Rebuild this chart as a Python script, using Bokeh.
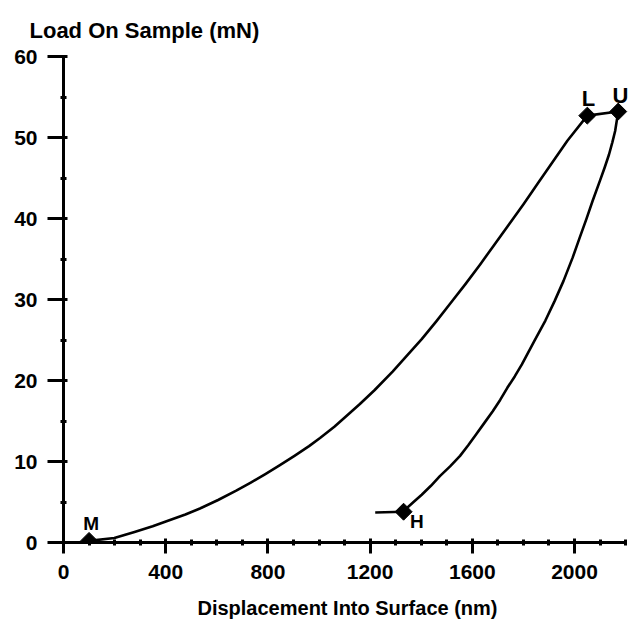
import math
from bokeh.plotting import figure
from bokeh.models import Range1d, FixedTicker
from bokeh.embed import file_html
from bokeh.resources import INLINE
from bokeh.core.properties import value

# ---- data ----
load_disp = [100, 199, 278, 349, 406, 477, 534, 605, 676, 733, 790, 847, 904, 961,
             1004, 1060, 1103, 1160, 1217, 1288, 1345, 1402, 1459, 1516, 1573, 1630,
             1687, 1744, 1801, 1858, 1915, 1972, 2050]
load_force = [0.2, 0.55, 1.3, 2.0, 2.65, 3.45, 4.2, 5.25, 6.4, 7.4, 8.45, 9.55,
              10.7, 11.9, 12.9, 14.3, 15.5, 17.1, 18.8, 21.1, 23.1, 25.1, 27.3, 29.6,
              31.9, 34.3, 36.8, 39.3, 41.8, 44.4, 47.0, 49.6, 52.7]

hold_top_disp = [2050, 2171]
hold_top_force = [52.7, 53.2]

unload_disp = [2171, 2165, 2159, 2148, 2135, 2118, 2100, 2071, 2046, 2021, 1993,
               1957, 1922, 1886, 1843, 1794, 1766, 1737, 1709, 1680, 1648, 1616,
               1584, 1552, 1513, 1473, 1438, 1402, 1370, 1345, 1331]
unload_force = [53.2, 52.0, 50.8, 49.4, 47.9, 46.3, 44.7, 42.2, 39.9, 37.7, 35.2,
                32.3, 29.8, 27.4, 24.9, 22.0, 20.5, 19.1, 17.6, 16.2, 14.8, 13.4,
                12.0, 10.7, 9.4, 8.2, 7.0, 5.9, 5.0, 4.3, 3.8]

hold_low_disp = [1331, 1220]
hold_low_force = [3.8, 3.7]

marker_disp = [100, 2050, 2171, 1331]
marker_force = [0.2, 52.7, 53.2, 3.8]

x_major = [0, 400, 800, 1200, 1600, 2000]
x_minor = [v for v in range(0, 2201, 100) if v % 400 != 0]
y_major = [0, 10, 20, 30, 40, 50, 60]
y_minor = [5, 15, 25, 35, 45, 55]

x_title = "Displacement Into Surface (nm)"
y_title = "Load On Sample (mN)"

FONT = "Liberation Sans"

p = figure(width=631, height=621, output_backend="svg", toolbar_location=None,
           x_range=Range1d(0, 2223), y_range=Range1d(0, 60),
           min_border_left=63, min_border_right=0, min_border_top=56,
           min_border_bottom=79)
p.outline_line_color = None
p.grid.visible = False
p.background_fill_color = "white"
p.border_fill_color = "white"

xa = p.xaxis[0]
ya = p.yaxis[0]
xa.ticker = FixedTicker(ticks=x_major, minor_ticks=x_minor)
ya.ticker = FixedTicker(ticks=y_major, minor_ticks=y_minor)
xa.bounds = (0, 2200)
ya.bounds = (0, 60)

for ax in (xa, ya):
    ax.axis_line_width = 3
    ax.axis_line_color = "black"
    ax.major_tick_line_width = 3
    ax.minor_tick_line_width = 3
    ax.major_tick_line_color = "black"
    ax.minor_tick_line_color = "black"
    ax.minor_tick_in = 3
    ax.minor_tick_out = 3
    ax.major_label_text_font = FONT
    ax.major_label_text_font_style = "bold"
    ax.major_label_text_font_size = "21px"
    ax.major_label_text_color = "black"

xa.major_tick_in = 4
xa.major_tick_out = 11
xa.major_label_standoff = 11
ya.major_tick_in = 4
ya.major_tick_out = 16
ya.major_label_standoff = 10

xa.axis_label = x_title
xa.axis_label_text_font = FONT
xa.axis_label_text_font_style = "bold"
xa.axis_label_text_font_size = "20px"
xa.axis_label_text_color = "black"
xa.axis_label_standoff = 15

# y-axis title shown at the top left, as the figure title
p.title.text = y_title
p.title.align = "left"
p.title.vertical_align = "top"
p.title.offset = -34
p.title.standoff = 24
p.title.text_font = FONT
p.title.text_font_style = "bold"
p.title.text_font_size = "22px"
p.title.text_color = "black"

# curves
for xs, ys in ((load_disp, load_force), (hold_top_disp, hold_top_force),
               (unload_disp, unload_force), (hold_low_disp, hold_low_force)):
    p.line(xs, ys, line_color="black", line_width=2.6, line_join="round")

p.scatter(marker_disp, marker_force, marker="square", angle=math.pi / 4,
          size=12, color="black")

# point labels
p.text(x=[108], y=[2.4], text=["M"], text_align="center", text_baseline="alphabetic",
       text_font=value(FONT), text_font_style="bold", text_font_size="19px",
       text_color="black")
p.text(x=[1356], y=[2.6], text=["H"], text_align="left", text_baseline="alphabetic",
       text_font=value(FONT), text_font_style="bold", text_font_size="19px",
       text_color="black")
p.text(x=[2055, 2180], y=[54.8, 55.2], text=["L", "U"], text_align="center",
       text_baseline="alphabetic", text_font=value(FONT), text_font_style="bold",
       text_font_size="22px", text_color="black")

open("out.html", "w").write(file_html(p, INLINE))
